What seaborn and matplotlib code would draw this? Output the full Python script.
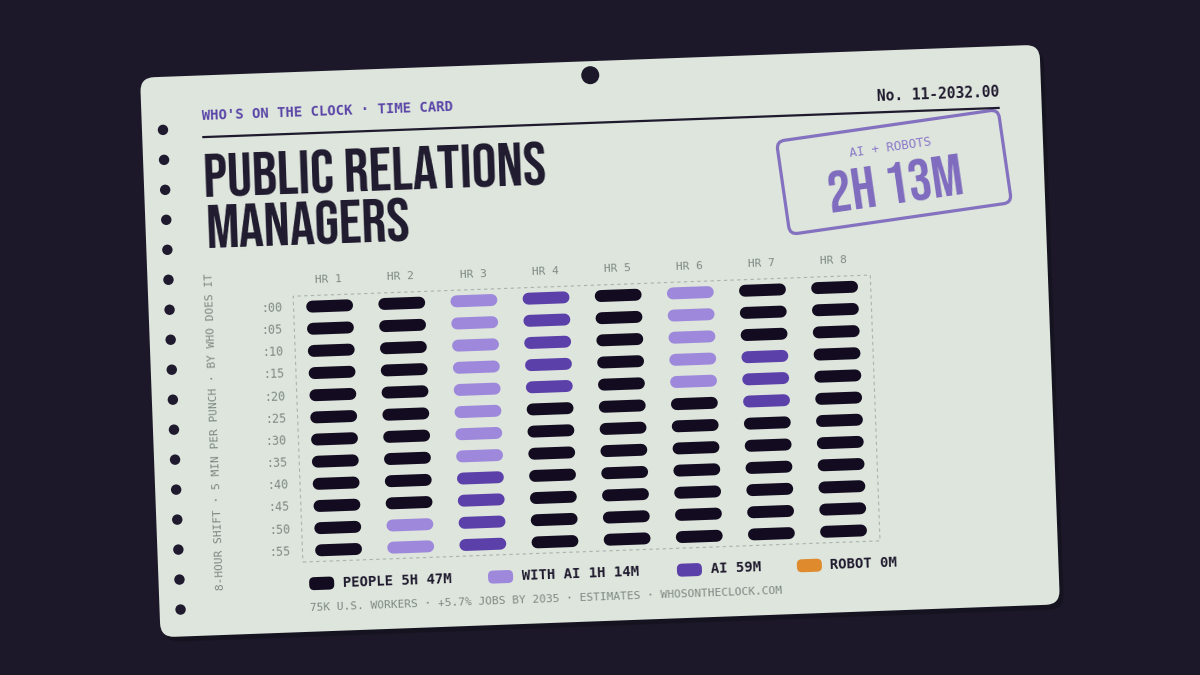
import numpy as np
import pandas as pd
import matplotlib
matplotlib.use("Agg")
import matplotlib.pyplot as plt
import seaborn as sns
from matplotlib.transforms import Affine2D
from matplotlib.patches import FancyBboxPatch, Circle, Rectangle
from matplotlib import font_manager
from matplotlib.font_manager import FontProperties

# ---------------- data ----------------
hour_labels = ["HR 1", "HR 2", "HR 3", "HR 4", "HR 5", "HR 6", "HR 7", "HR 8"]
minute_labels = [":00", ":05", ":10", ":15", ":20", ":25", ":30", ":35", ":40", ":45", ":50", ":55"]
# one string per hour, one letter per 5-minute punch (P people, W with AI, A AI, R robot)
punches_by_hour = [
    "PPPPPPPPPPPP",
    "PPPPPPPPPPWW",
    "WWWWWWWWAAAA",
    "AAAAAPPPPPPP",
    "PPPPPPPPPPPP",
    "WWWWWPPPPPPP",
    "PPPAAAPPPPPP",
    "PPPPPPPPPPPP",
]
category_codes = ["P", "W", "A", "R"]
categories = ["People", "With AI", "AI", "Robot"]
category_colors = ["#130c20", "#9d88dc", "#5c40aa", "#e08a2e"]
legend_labels = ["PEOPLE 5H 47M", "WITH AI 1H 14M", "AI 59M", "ROBOT 0M"]

kicker = "WHO'S ON THE CLOCK · TIME CARD"
card_no = "No. 11-2032.00"
title_lines = ["PUBLIC RELATIONS", "MANAGERS"]
stamp_label = "AI + ROBOTS"
stamp_value = "2H 13M"
side_note = "8-HOUR SHIFT · 5 MIN PER PUNCH · BY WHO DOES IT"
footer = "75K U.S. WORKERS · +5.7% JOBS BY 2035 · ESTIMATES · WHOSONTHECLOCK.COM"

# ---------------- style ----------------
BG = "#1c1829"
CARD = "#dde5dc"
INK = "#1f1a2e"
MUTED = "#7f8883"
KICK = "#5a45a8"
STAMP = "#7a65bd"
MONO = ["DejaVu Sans Mono", "DejaVu Sans"]


def pick_condensed():
    cands = [
        ("Bebas Neue", "normal", "normal"),
        ("Anton", "normal", "normal"),
        ("Oswald", "bold", "normal"),
        ("League Gothic", "normal", "normal"),
        ("Noto Sans", "black", "extra-condensed"),
        ("Noto Sans", "bold", "extra-condensed"),
        ("Noto Sans Display", "bold", "extra-condensed"),
        ("Noto Sans ExtraCondensed", "bold", "normal"),
        ("Roboto Condensed", "bold", "normal"),
        ("Open Sans Condensed", "bold", "normal"),
        ("Noto Sans", "bold", "condensed"),
        ("Liberation Sans Narrow", "bold", "normal"),
        ("DejaVu Sans", "bold", "condensed"),
    ]
    for fam, w, st in cands:
        fp = FontProperties(family=fam, weight=w, stretch=st)
        try:
            path = font_manager.findfont(fp, fallback_to_default=False)
        except Exception:
            continue
        low = path.lower()
        if st != "normal" and not ("condensed" in low or "narrow" in low):
            continue
        return FontProperties(fname=path)
    return FontProperties(family="DejaVu Sans", weight="bold")


TITLE_FP = pick_condensed()

sns.set_theme(style="white")
plt.rcParams["font.family"] = ["DejaVu Sans Mono", "DejaVu Sans"]

fig = plt.figure(figsize=(12, 6.75), dpi=100, facecolor=BG)
renderer = fig.canvas.get_renderer()


def fit_size(text, target_w, max_cap_px):
    fp = TITLE_FP.copy()
    fp.set_size(40)
    t = fig.text(0, 0, text, fontproperties=fp)
    w = t.get_window_extent(renderer).width
    t.remove()
    cap = fig.text(0, 0, "H", fontproperties=fp)
    h = cap.get_window_extent(renderer).height
    cap.remove()
    size = 40 * target_w / w
    # cap height roughly 0.75 of bbox height of "H"
    size_cap = 40 * max_cap_px / (h * 0.78)
    return min(size, size_cap)


title_size = fit_size(title_lines[0], 343, 42)
stamp_size = fit_size(stamp_value, 136, 40)

bg = fig.add_axes([0, 0, 1, 1])
bg.set_xlim(0, 1200)
bg.set_ylim(675, 0)
bg.axis("off")

ANG = 2.1
rot = Affine2D().rotate_deg_around(600, 675 - 341, ANG)
T = bg.transData + rot

# card
bg.add_patch(FancyBboxPatch((154, 66), 900, 560, boxstyle="round,pad=0,rounding_size=14",
                            fc="#000000", ec="none", alpha=0.18, transform=T))
bg.add_patch(FancyBboxPatch((150, 61), 900, 560, boxstyle="round,pad=0,rounding_size=14",
                            fc=CARD, ec="none", transform=T))
bg.add_patch(Circle((600, 75), 9, fc=BG, ec="none", transform=T))
for k in range(17):
    bg.add_patch(Circle((171, 114 + 30 * k), 5.2, fc=INK, ec="none", transform=T))


def ctext(x, y, s, **kw):
    kw.setdefault("rotation", ANG)
    return bg.text(x, y, s, transform=T, rotation_mode="anchor", **kw)


ctext(210, 102, kicker, ha="left", va="center", color=KICK, fontsize=10,
      fontweight="bold", family=MONO)
bg.plot([210, 1008], [122.7, 122.7], color=INK, lw=1.6, transform=T, solid_capstyle="butt")
ctext(1008, 107, card_no, ha="right", va="center", color=INK, fontsize=10.5,
      fontweight="bold", family=MONO)
tfp = TITLE_FP.copy()
tfp.set_size(title_size)
ctext(210, 183, title_lines[0], ha="left", va="baseline", color=INK, fontproperties=tfp)
ctext(210, 234, title_lines[1], ha="left", va="baseline", color=INK, fontproperties=tfp)
ctext(212, 417, side_note, rotation=90 + ANG, ha="center", va="center", color=MUTED,
      fontsize=8, family=MONO)
ctext(300, 597, footer, ha="left", va="center", color=MUTED, fontsize=8, family=MONO)

# legend
legend_x = [313, 492, 681, 801]
for lx, lab, col in zip(legend_x, legend_labels, category_colors):
    bg.add_patch(FancyBboxPatch((lx - 12.5, 573 - 6.5), 25, 13,
                                boxstyle="round,pad=0,rounding_size=5",
                                fc=col, ec="none", transform=T))
    ctext(lx + 21, 573, lab, ha="left", va="center", color=INK, fontsize=10,
          fontweight="bold", family=MONO)

# stamp
ST = bg.transData + Affine2D().rotate_deg_around(894, 675 - 172, 8.2)
bg.add_patch(FancyBboxPatch((894 - 112, 172 - 47), 224, 94,
                            boxstyle="round,pad=0,rounding_size=8",
                            fc="none", ec=STAMP, lw=2.3, alpha=0.9, transform=ST))
bg.text(890.5, 148, stamp_label, rotation=8.2, rotation_mode="anchor", ha="center",
        va="center", color="#8b79c9", fontsize=9, family=MONO)
sfp = TITLE_FP.copy()
sfp.set_size(stamp_size)
bg.text(895.7, 184, stamp_value, rotation=8.2, rotation_mode="anchor", ha="center",
        va="center", color=STAMP, fontproperties=sfp, alpha=0.95)

# ---------------- punch grid ----------------
code_to_cat = dict(zip(category_codes, categories))
rows = []
half = 0.242
cell = 0
for h, punches in enumerate(punches_by_hour, start=1):
    for j, code in enumerate(punches):
        for side in (-half, half):
            rows.append({"x": h + side, "row": j, "who": code_to_cat[code], "cell": cell})
        cell += 1
df = pd.DataFrame(rows)

gx = fig.add_axes([295 / 1200, (675 - 551) / 675, 577.5 / 1200, 266 / 675])
sns.lineplot(data=df, x="x", y="row", hue="who", units="cell", estimator=None, sort=False,
             hue_order=categories, palette=dict(zip(categories, category_colors)),
             linewidth=8.6, legend=False, ax=gx)
gx.set_xlim(0.5, 8.5)
gx.set_ylim(11.5, -0.5)
gx.axis("off")
GT = gx.transData + rot
for ln in gx.lines:
    ln.set_transform(GT)
    ln.set_solid_capstyle("round")
    ln.set_clip_on(False)

gx.add_patch(Rectangle((0, 0), 1, 1, transform=gx.transAxes + rot, fill=False,
                       ls=(0, (3, 3)), lw=0.8, ec="#aab3ad", clip_on=False))
for h, lab in enumerate(hour_labels, start=1):
    gx.text(h, -1.2, lab, transform=GT, rotation=ANG, rotation_mode="anchor",
            ha="center", va="center", color=MUTED, fontsize=8, family=MONO, clip_on=False)
for j, lab in enumerate(minute_labels):
    gx.text(0.34, j, lab, transform=GT, rotation=ANG, rotation_mode="anchor",
            ha="right", va="center", color=MUTED, fontsize=8.5, family=MONO, clip_on=False)

fig.savefig("out.png", dpi=100, facecolor=BG)
